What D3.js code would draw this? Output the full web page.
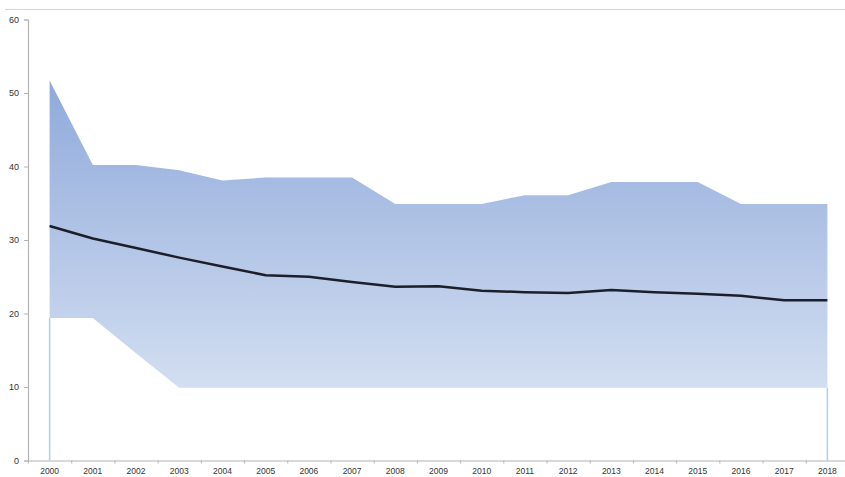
<!DOCTYPE html>
<html>
<head>
<meta charset="utf-8">
<script src="https://cdn.jsdelivr.net/npm/d3@7"></script>
<style>
  html, body { margin: 0; padding: 0; background: #ffffff; }
  svg { display: block; }
  text { font-family: "Liberation Sans", Arial, sans-serif; }
</style>
</head>
<body>
<svg id="chart" width="845" height="477"></svg>
<script>
const years = ["2000","2001","2002","2003","2004","2005","2006","2007","2008","2009","2010","2011","2012","2013","2014","2015","2016","2017","2018"];
const upperValues = [51.7, 40.2, 40.2, 39.5, 38.1, 38.5, 38.5, 38.5, 34.9, 34.9, 34.9, 36.1, 36.1, 37.9, 37.9, 37.9, 34.9, 34.9, 34.9];
const lowerValues = [19.4, 19.4, 14.6, 9.9, 9.9, 9.9, 9.9, 9.9, 9.9, 9.9, 9.9, 9.9, 9.9, 9.9, 9.9, 9.9, 9.9, 9.9, 9.9];
const meanValues  = [31.9, 30.2, 28.9, 27.6, 26.4, 25.2, 25.0, 24.3, 23.65, 23.7, 23.1, 22.9, 22.8, 23.2, 22.9, 22.7, 22.4, 21.8, 21.8];
const yTickValues = [0, 10, 20, 30, 40, 50, 60];

const svg = d3.select("#chart");
const plotLeft = 28, plotRight = 849, plotTop = 19.5, plotBottom = 460.5;

const x = d3.scaleBand().domain(years).range([plotLeft, plotRight]).paddingInner(0).paddingOuter(0);
const y = d3.scaleLinear().domain([0, 60]).range([plotBottom, plotTop]);
const cx = d => x(d) + x.bandwidth() / 2;

// top frame line
svg.append("line").attr("x1", 5).attr("x2", 845).attr("y1", 9.5).attr("y2", 9.5)
  .attr("stroke", "#d4d4d4").attr("stroke-width", 1);

// gradient
const defs = svg.append("defs");
const grad = defs.append("linearGradient").attr("id", "bandGrad")
  .attr("gradientUnits", "userSpaceOnUse")
  .attr("x1", 0).attr("x2", 0).attr("y1", y(52)).attr("y2", y(10));
grad.append("stop").attr("offset", "0%").attr("stop-color", "#8fa9db");
grad.append("stop").attr("offset", "100%").attr("stop-color", "#d2def1");

const data = years.map((yr, i) => ({ yr, lo: lowerValues[i], hi: upperValues[i], m: meanValues[i] }));

const area = d3.area().x(d => cx(d.yr)).y0(d => y(d.lo)).y1(d => y(d.hi));
svg.append("path").datum(data).attr("d", area).attr("fill", "url(#bandGrad)");

// light edges at first and last year down to 0
[data[0], data[data.length - 1]].forEach(d => {
  svg.append("line").attr("x1", cx(d.yr)).attr("x2", cx(d.yr))
    .attr("y1", y(d.lo)).attr("y2", y(0))
    .attr("stroke", "#add0e8").attr("stroke-width", 1.5);
});

// axes
const yAxis = d3.axisLeft(y).tickValues(yTickValues).tickSize(4).tickPadding(5);
const gy = svg.append("g").attr("transform", `translate(${plotLeft},0)`).call(yAxis);
gy.select(".domain").attr("stroke", "#b4b4b4").attr("stroke-width", 1.2);
gy.selectAll(".tick line").attr("stroke", "#b4b4b4");
gy.selectAll("text").attr("fill", "#333333").attr("font-size", 9);

const xAxis = d3.axisBottom(x).tickSize(0).tickPadding(7);
const gx = svg.append("g").attr("transform", `translate(0,${plotBottom})`).call(xAxis);
gx.select(".domain").attr("stroke", "#b4b4b4").attr("stroke-width", 1.2);
gx.selectAll("text").attr("fill", "#333333").attr("font-size", 8.5);
// boundary tick marks between categories
years.forEach(yr => {
  gx.append("line").attr("x1", x(yr) + 0.5).attr("x2", x(yr) + 0.5)
    .attr("y1", 0).attr("y2", 3).attr("stroke", "#b4b4b4");
});

// mean line
const line = d3.line().x(d => cx(d.yr)).y(d => y(d.m));
svg.append("path").datum(data).attr("d", line)
  .attr("fill", "none").attr("stroke", "#1c1f2a").attr("stroke-width", 2.5)
  .attr("stroke-linejoin", "round");
</script>
</body>
</html>
